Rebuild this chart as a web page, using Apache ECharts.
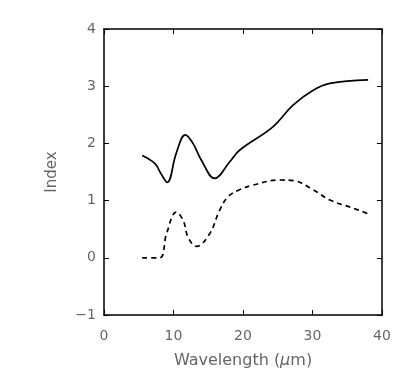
<!DOCTYPE html>
<html>
<head>
<meta charset="utf-8">
<script src="https://cdn.jsdelivr.net/npm/echarts@6/dist/echarts.min.js"></script>
<style>
  html, body { margin: 0; padding: 0; background: #fff; }
  #chart { width: 415px; height: 388px; }
</style>
</head>
<body>
<div id="chart"></div>
<script>
// solid curve: wavelength (um), index
const solidX = [5.5, 7.3, 8.3, 9.1, 10.4, 11.7, 12.8, 14.0, 15.9, 18.1, 19.5, 24.3, 27.2, 30.1, 32.5, 38.0];
const solidY = [1.79, 1.65, 1.45, 1.32, 1.83, 2.15, 2.0, 1.71, 1.39, 1.68, 1.88, 2.29, 2.67, 2.93, 3.05, 3.11];
// dashed curve
const dashX = [5.5, 8.0, 9.0, 10.4, 11.4, 12.1, 13.3, 15.2, 16.6, 17.8, 19.5, 21.4, 25.3, 27.2, 30.1, 32.5, 35.8, 38.0];
const dashY = [0.0, 0.0, 0.42, 0.80, 0.65, 0.36, 0.20, 0.42, 0.82, 1.06, 1.19, 1.27, 1.36, 1.35, 1.19, 1.01, 0.87, 0.77];
const xTicks = [0, 10, 20, 30, 40];
const yTicks = [-1, 0, 1, 2, 3, 4];

function pairs(xs, ys) {
  return xs.map((x, i) => [x, ys[i]]);
}

const font = "DejaVu Sans";
const txt = "#666";

let chart = echarts.init(document.getElementById("chart"));
let frameAxis = {
  axisLine: { show: true, onZero: false, lineStyle: { color: "#000", width: 1.5 } },
  axisTick: { inside: true, length: 5, lineStyle: { color: "#000" } },
  splitLine: { show: false },
};
let option = {
  animation: false,
  backgroundColor: "#fff",
  grid: { left: 104, right: 33, top: 29, bottom: 73 },
  xAxis: [
    Object.assign({}, frameAxis, {
      type: "value", min: xTicks[0], max: xTicks[xTicks.length - 1], interval: 10,
      name: "Wavelength ({i|μ}m)", nameLocation: "middle", nameGap: 38,
      nameTextStyle: {
        color: txt, fontFamily: font, fontSize: 16,
        rich: { i: { fontStyle: "italic", color: txt, fontFamily: font, fontSize: 16 } },
      },
      axisLabel: { color: txt, fontFamily: font, fontSize: 14, margin: 14 },
    }),
    Object.assign({}, frameAxis, {
      type: "value", position: "top", min: xTicks[0], max: xTicks[xTicks.length - 1], interval: 10,
      axisLabel: { show: false },
    }),
  ],
  yAxis: [
    Object.assign({}, frameAxis, {
      type: "value", min: yTicks[0], max: yTicks[yTicks.length - 1], interval: 1,
      name: "Index", nameLocation: "middle", nameGap: 44,
      nameTextStyle: { color: txt, fontFamily: font, fontSize: 15 },
      axisLabel: {
        color: txt, fontFamily: font, fontSize: 14, margin: 8,
        formatter: (v) => String(v).replace("-", "\u2212"),
      },
    }),
    Object.assign({}, frameAxis, {
      type: "value", position: "right", min: yTicks[0], max: yTicks[yTicks.length - 1], interval: 1,
      axisLabel: { show: false },
    }),
  ],
  series: [
    {
      type: "line", data: pairs(solidX, solidY), smooth: 0.4, showSymbol: false,
      lineStyle: { color: "#000", width: 1.7 },
    },
    {
      type: "line", data: pairs(dashX, dashY), smooth: 0.4, showSymbol: false,
      lineStyle: { color: "#000", width: 1.7, type: [5, 4] },
    },
  ],
};
chart.setOption(option);
</script>
</body>
</html>
